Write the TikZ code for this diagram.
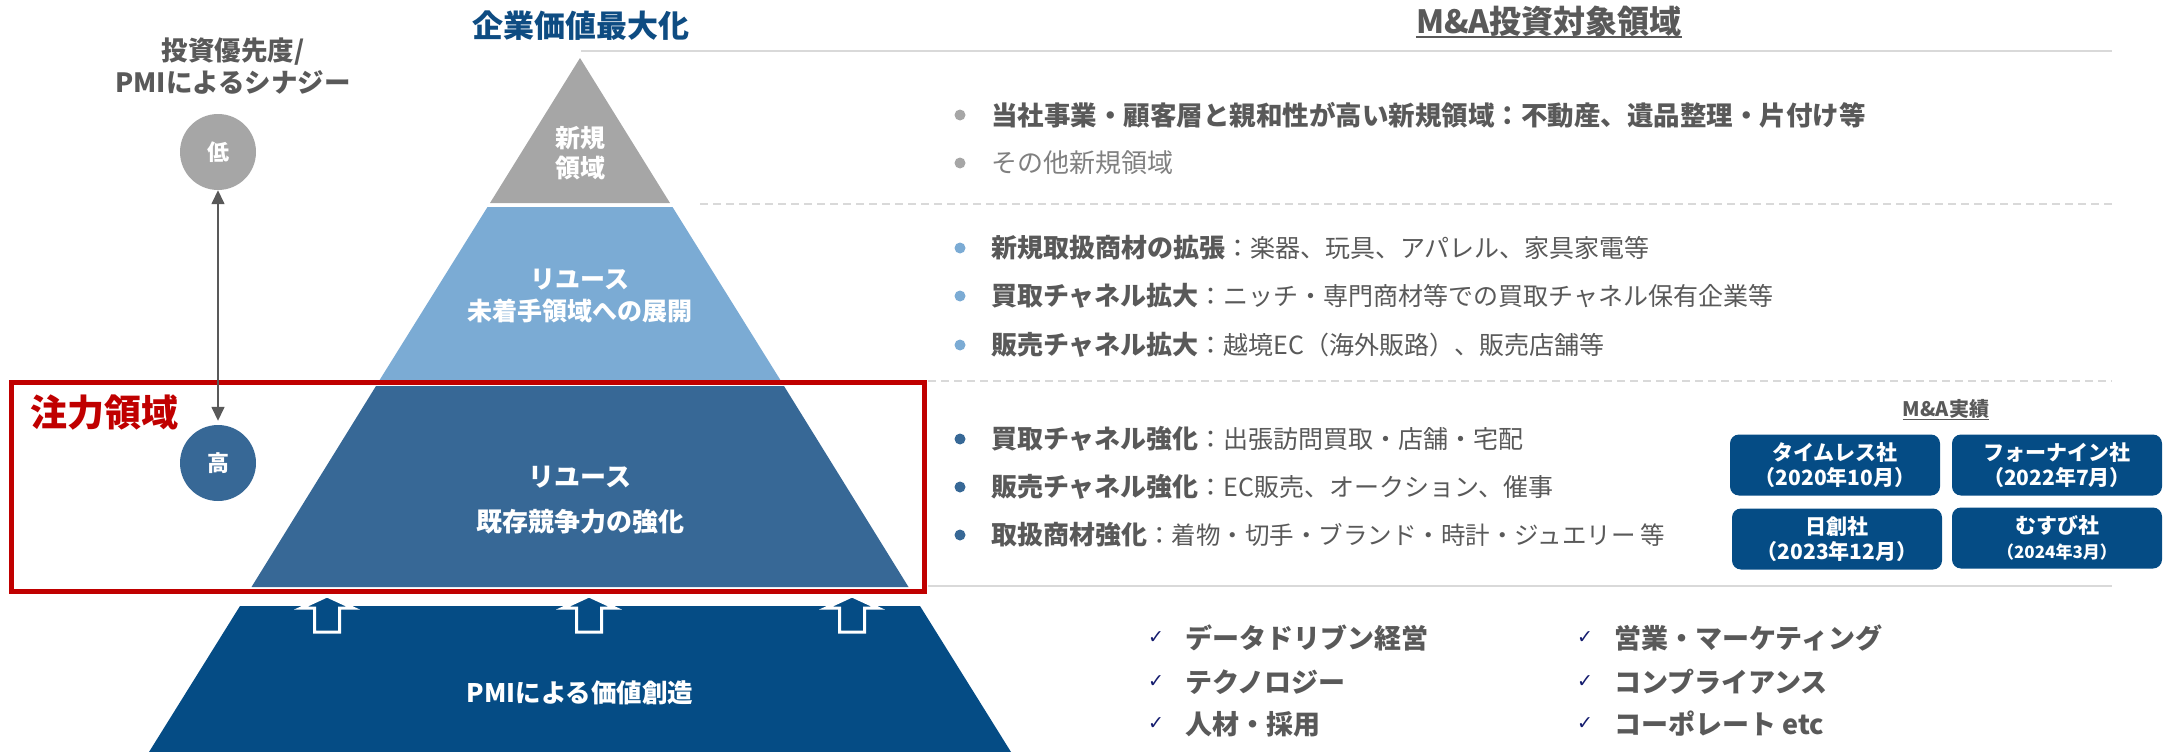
\documentclass[tikz,border=0pt]{standalone}
\usepackage{fontspec}
\setmainfont{Noto Sans CJK JP}
\newfontfamily\symfont{DejaVu Sans}
\usetikzlibrary{arrows.meta}
\definecolor{tgray}{HTML}{A6A6A6}
\definecolor{tlight}{HTML}{7BABD4}
\definecolor{tmid}{HTML}{376896}
\definecolor{tdark}{HTML}{054C85}
\definecolor{txt}{HTML}{595959}
\definecolor{txtl}{HTML}{808080}
\definecolor{redb}{HTML}{C00000}
\definecolor{navy}{HTML}{141C6E}
\definecolor{linegray}{HTML}{D9D9D9}
\definecolor{titleblue}{HTML}{0E4C82}
\newcommand\fsz[2]{\fontsize{#1}{#2}\selectfont}
\tikzset{
  tiertxt/.style={text=white, align=center, inner sep=0pt},
  circ/.style={circle, minimum size=76pt, inner sep=0pt, text=white, font=\fsz{22}{26}\bfseries},
  bdot/.style={circle, fill=#1, minimum size=11pt, inner sep=0pt},
  btxt/.style={anchor=west, inner sep=0pt, text=txt, font=\fsz{26}{30}},
  ctxt/.style={anchor=west, inner sep=0pt, text=txt, font=\fsz{27}{30}\bfseries},
  chk/.style={inner sep=0pt, text=navy, font=\symfont\bfseries\fsz{19}{20}},
  mabox/.style={rounded corners=9pt, fill=tdark, minimum width=210pt, minimum height=61pt, text=white, align=center, inner sep=0pt, font=\fsz{21}{25}\bfseries},
  sepline/.style={linegray, line width=2.5pt},
  dashline/.style={linegray, line width=2pt, dash pattern=on 8pt off 5pt},
  uparrow/.style={white, line width=3pt, fill=tdark, line join=miter},
}
\begin{document}
\begin{tikzpicture}[x=1pt,y=-1pt]
\useasboundingbox (0,0) rectangle (2171,752);
% separator lines
\draw[sepline] (581,51) -- (2112,51);
\draw[dashline] (700,204) -- (2112,204);
\draw[dashline] (928,381) -- (2112,381);
\draw[sepline] (928,586) -- (2112,586);
% pyramid
\fill[tgray] (580,58) -- (670,203) -- (490,203) -- cycle;
\fill[tlight] (487.5,207) -- (672.5,207) -- (781,381) -- (379,381) -- cycle;
\fill[tmid] (376,386) -- (784,386) -- (908.5,587) -- (251.5,587) -- cycle;
\fill[tdark] (240,606) -- (920,606) -- (1011,752) -- (149,752) -- cycle;
\node[tiertxt, font=\fsz{25}{30}\bfseries] (n1) at (580,153) {新規\\領域};
\node[tiertxt, font=\fsz{25}{32}\bfseries] (n2) at (580,296) {リユース\\未着手領域への展開};
\node[tiertxt, font=\fsz{26}{45}\bfseries] (n3) at (580,500) {リユース\\既存競争力の強化};
\node[tiertxt, font=\fsz{25.5}{30}\bfseries] (n4) at (580,693) {PMIによる価値創造};
% up arrows
\foreach \x in {327,589,852}{
  \draw[uparrow] (\x,596) -- (\x+26,608) -- (\x+12.5,608) -- (\x+12.5,632) -- (\x-12.5,632) -- (\x-12.5,608) -- (\x-26,608) -- cycle;
}
% red focus box
\draw[redb, line width=5pt] (11.5,382) rectangle (924.5,591);
\node[anchor=west, inner sep=0pt, text=redb, font=\fsz{37}{40}\bfseries] (focus) at (30,413) {注力領域};
% titles
\node[inner sep=0pt, text=titleblue, font=\fsz{31}{34}\bfseries] (title) at (581,26) {企業価値最大化};
\node[inner sep=0pt, text=txt, align=center, font=\fsz{26.5}{32}\bfseries] (lh) at (233,66) {投資優先度/\\PMIによるシナジー};
\node[inner sep=0pt, text=txt, font=\fsz{32}{34}\bfseries] (hdr) at (1549,21) {M\&A投資対象領域};
\draw[txt, line width=2pt] ([yshift=-4pt]hdr.base west) -- ([yshift=-4pt]hdr.base east);
% priority circles
\node[circ, fill=tgray] (lo) at (218,152) {低};
\node[circ, fill=tmid] (hi) at (218,463) {高};
\draw[txt, line width=1.5pt, {Triangle[length=14pt,width=13pt]}-{Triangle[length=14pt,width=13pt]}] (lo.south) -- ([yshift=4pt]hi.north);
% section 1
\node[bdot=tgray] (d1) at (960,115) {};
\node[btxt, font=\fsz{26.5}{30}\bfseries] (l1) at (991,115) {当社事業・顧客層と親和性が高い新規領域：不動産、遺品整理・片付け等};
\node[bdot=tgray] (d2) at (960,163) {};
\node[btxt, text=txtl] (l2) at (991,163) {その他新規領域};
% section 2
\node[bdot=tlight] (d3) at (960,248) {};
\node[btxt] (l3) at (991,248) {\bfseries 新規取扱商材の拡張\mdseries{\fsz{25}{30}：楽器、玩具、アパレル、家具家電等}};
\node[bdot=tlight] (d4) at (960,296) {};
\node[btxt] (l4) at (991,296) {\bfseries 買取チャネル拡大\mdseries{\fsz{25}{30}：ニッチ・専門商材等での買取チャネル保有企業等}};
\node[bdot=tlight] (d5) at (960,345) {};
\node[btxt] (l5) at (991,345) {\bfseries 販売チャネル拡大\mdseries{\fsz{25}{30}：越境EC（海外販路）、販売店舗等}};
% section 3
\node[bdot=tmid] (d6) at (960,439) {};
\node[btxt] (l6) at (991,439) {\bfseries 買取チャネル強化\mdseries{\fsz{25}{30}：出張訪問買取・店舗・宅配}};
\node[bdot=tmid] (d7) at (960,487) {};
\node[btxt] (l7) at (991,487) {\bfseries 販売チャネル強化\mdseries{\fsz{25}{30}：EC販売、オークション、催事}};
\node[bdot=tmid] (d8) at (960,535) {};
\node[btxt] (l8) at (991,535) {\bfseries 取扱商材強化\mdseries{\fsz{24.5}{30}：着物・切手・ブランド・時計・ジュエリー 等}};
% M&A track record
\node[inner sep=0pt, text=txt, font=\fsz{20}{24}\bfseries] (mah) at (1946,409) {M\&A実績};
\draw[txt, line width=1.5pt] ([yshift=-3pt]mah.base west) -- ([yshift=-3pt]mah.base east);
\node[mabox] (m1) at (1835,465) {タイムレス社\\（2020年10月）};
\node[mabox] (m2) at (2057,465) {フォーナイン社\\（2022年7月）};
\node[mabox] (m3) at (1837,539) {日創社\\（2023年12月）};
\node[mabox] (m4) at (2057,538) {むすび社\\{\fsz{17}{25}（2024年3月）}};
% PMI checklist
\node[chk] (c1) at (1156,638) {✓};
\node[ctxt] (k1) at (1185,638) {データドリブン経営};
\node[chk] (c2) at (1156,682) {✓};
\node[ctxt] (k2) at (1185,682) {テクノロジー};
\node[chk] (c3) at (1156,724) {✓};
\node[ctxt] (k3) at (1185,724) {人材・採用};
\node[chk] (c4) at (1585,638) {✓};
\node[ctxt] (k4) at (1614,638) {営業・マーケティング};
\node[chk] (c5) at (1585,682) {✓};
\node[ctxt] (k5) at (1614,682) {コンプライアンス};
\node[chk] (c6) at (1585,724) {✓};
\node[ctxt] (k6) at (1614,724) {コーポレート etc};
\end{tikzpicture}
\end{document}
